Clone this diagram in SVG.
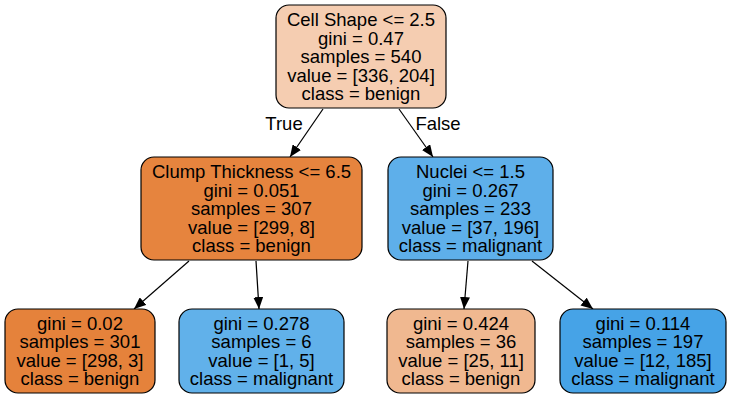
<svg xmlns="http://www.w3.org/2000/svg" width="731" height="400" viewBox="0 0 731 400">
<defs>
<style>
.box{stroke:#000;stroke-width:1.2}
text{font-family:"Liberation Sans",Arial,Helvetica,sans-serif;font-size:18.5px;fill:#000;text-anchor:middle}
.edge{stroke:#000;stroke-width:1.2;fill:none;marker-end:url(#arr)}
</style>
<marker id="arr" viewBox="0 0 12 10" refX="12" refY="5" markerWidth="12" markerHeight="10" markerUnits="userSpaceOnUse" orient="auto">
<path d="M0,0 L12,5 L0,10 z" fill="#000"/>
</marker>
</defs>
<rect width="731" height="400" fill="#fff"/>
<g id="connectors">
<line class="edge" x1="323" y1="109" x2="290" y2="157"/>
<line class="edge" x1="399" y1="109" x2="433" y2="157"/>
<line class="edge" x1="189" y1="261" x2="134" y2="309"/>
<line class="edge" x1="256" y1="261" x2="259" y2="309"/>
<line class="edge" x1="468" y1="261" x2="464" y2="309"/>
<line class="edge" x1="532" y1="261" x2="593" y2="309"/>
<text x="284" y="130">True</text>
<text x="438" y="130">False</text>
</g>
<g id="node0">
<rect class="box" x="276" y="5" width="170" height="103" rx="13" fill="#f5cdb1"/>
<text x="361" y="26">Cell Shape &lt;= 2.5</text>
<text x="361" y="44.5">gini = 0.47</text>
<text x="361" y="63">samples = 540</text>
<text x="361" y="81.5">value = [336, 204]</text>
<text x="361" y="100">class = benign</text>
</g>
<g id="node1">
<rect class="box" x="141" y="157" width="221" height="103" rx="13" fill="#e6843e"/>
<text x="251.5" y="178">Clump Thickness &lt;= 6.5</text>
<text x="251.5" y="196.5">gini = 0.051</text>
<text x="251.5" y="215">samples = 307</text>
<text x="251.5" y="233.5">value = [299, 8]</text>
<text x="251.5" y="252">class = benign</text>
</g>
<g id="node4">
<rect class="box" x="388" y="157" width="165" height="103" rx="13" fill="#5eafea"/>
<text x="470.5" y="178">Nuclei &lt;= 1.5</text>
<text x="470.5" y="196.5">gini = 0.267</text>
<text x="470.5" y="215">samples = 233</text>
<text x="470.5" y="233.5">value = [37, 196]</text>
<text x="470.5" y="252">class = malignant</text>
</g>
<g id="node2">
<rect class="box" x="5" y="309" width="150" height="84" rx="13" fill="#e5823b"/>
<text x="80" y="330">gini = 0.02</text>
<text x="80" y="348">samples = 301</text>
<text x="80" y="366.5">value = [298, 3]</text>
<text x="80" y="384.5">class = benign</text>
</g>
<g id="node3">
<rect class="box" x="179" y="309" width="165" height="84" rx="13" fill="#61b1ea"/>
<text x="261.5" y="330">gini = 0.278</text>
<text x="261.5" y="348">samples = 6</text>
<text x="261.5" y="366.5">value = [1, 5]</text>
<text x="261.5" y="384.5">class = malignant</text>
</g>
<g id="node5">
<rect class="box" x="387" y="309" width="148" height="84" rx="13" fill="#f0b890"/>
<text x="461" y="330">gini = 0.424</text>
<text x="461" y="348">samples = 36</text>
<text x="461" y="366.5">value = [25, 11]</text>
<text x="461" y="384.5">class = benign</text>
</g>
<g id="node6">
<rect class="box" x="560" y="309" width="166" height="84" rx="13" fill="#46a3e7"/>
<text x="643" y="330">gini = 0.114</text>
<text x="643" y="348">samples = 197</text>
<text x="643" y="366.5">value = [12, 185]</text>
<text x="643" y="384.5">class = malignant</text>
</g>
</svg>
